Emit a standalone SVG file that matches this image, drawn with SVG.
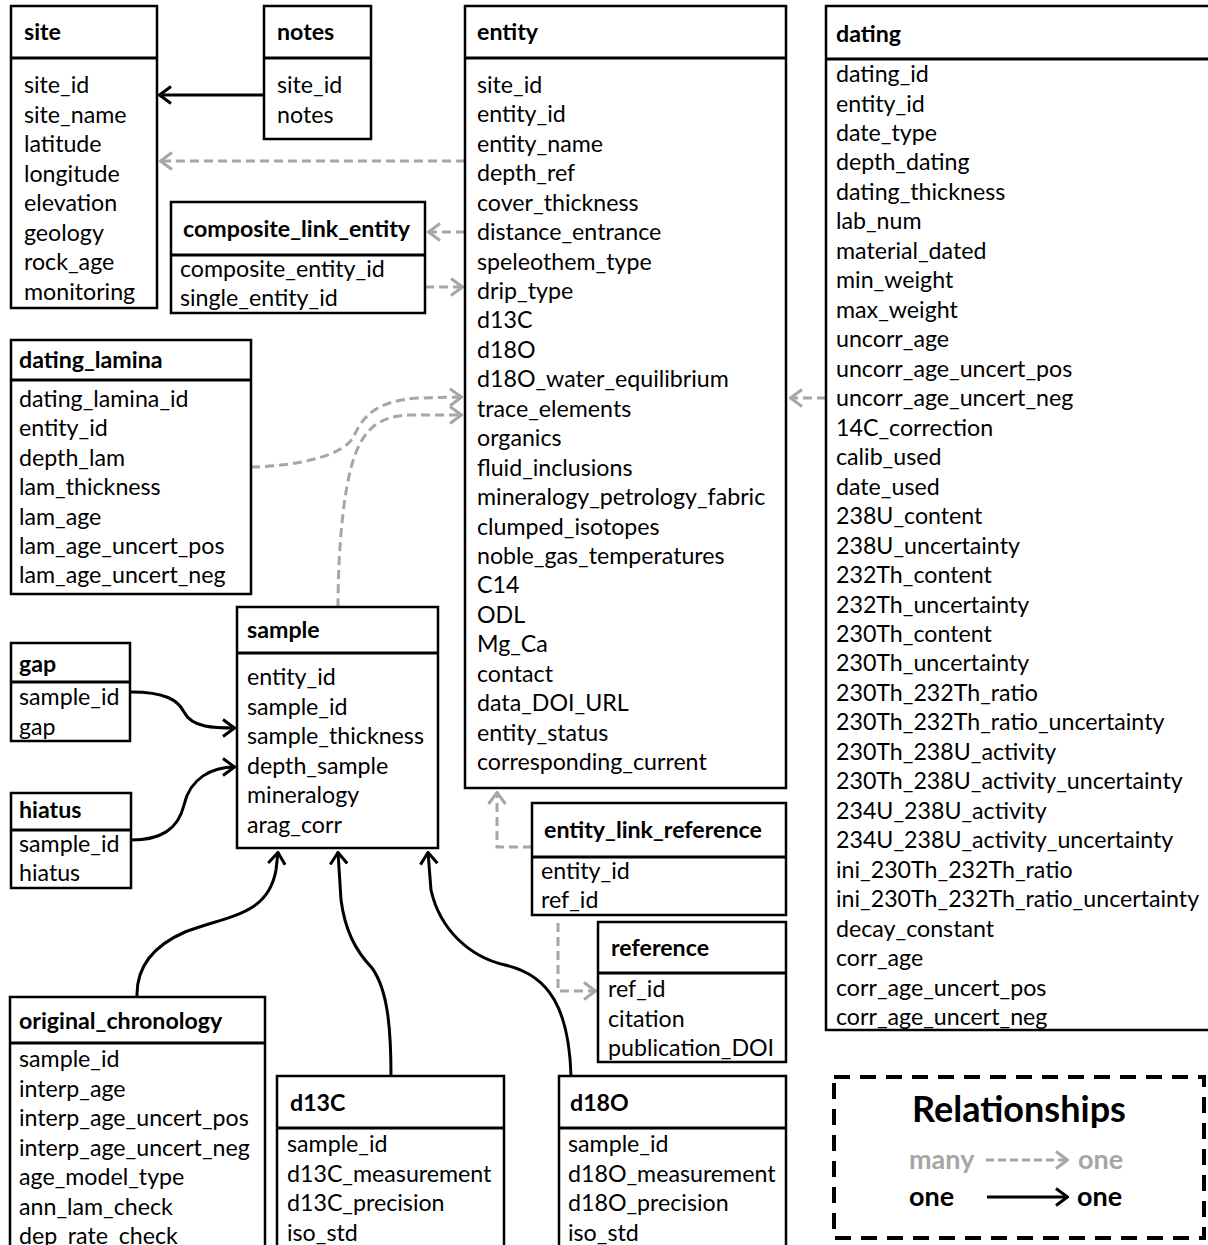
<svg xmlns="http://www.w3.org/2000/svg" width="1208" height="1245" viewBox="0 0 1208 1245">
<style>
.t{font-family:Lato,"Liberation Sans",sans-serif;font-size:23.2px;fill:#000}
.h{font-weight:bold}
.box{fill:#fff;stroke:#000;stroke-width:2.5}
.sep{stroke:#000;stroke-width:3}
.one{fill:none;stroke:#000;stroke-width:3}
.many{fill:none;stroke:#a6a6a6;stroke-width:3;stroke-dasharray:9 5}
.lg{font-size:27px}
</style>
<defs>
<marker id="ab" viewBox="0 0 14 20" refX="13" refY="10" markerWidth="14" markerHeight="20" markerUnits="userSpaceOnUse" orient="auto"><path d="M1,1.5 L12.5,10 L1,18.5" fill="none" stroke="#000" stroke-width="3"/></marker>
<marker id="ag" viewBox="0 0 14 20" refX="13" refY="10" markerWidth="14" markerHeight="20" markerUnits="userSpaceOnUse" orient="auto"><path d="M1,1.5 L12.5,10 L1,18.5" fill="none" stroke="#a6a6a6" stroke-width="3"/></marker>
</defs>
<rect width="1208" height="1245" fill="#fff"/>

<g id="connectors">
<path class="one" d="M264,95 L159,95" marker-end="url(#ab)"/>
<path class="many" d="M465,161 L160,161" marker-end="url(#ag)"/>
<path class="many" d="M465,232 L428,232" marker-end="url(#ag)"/>
<path class="many" d="M425,287 L463,287" marker-end="url(#ag)"/>
<path class="many" d="M251,467 C300,466 345,455 354,436 C362,418 375,400 420,398 L462,397" marker-end="url(#ag)"/>
<path class="many" d="M338,607 C338,560 342,490 355,455 C365,428 380,416 410,415 L462,415" marker-end="url(#ag)"/>
<path class="one" d="M131,692 C165,692 178,700 184,712 C192,728 215,728 235,728" marker-end="url(#ab)"/>
<path class="one" d="M131,840 C160,840 178,830 184,805 C190,778 212,767 235,767" marker-end="url(#ab)"/>
<path class="one" d="M137,997 C136,965 155,945 185,932 C230,915 268,915 276,870 L278,852" marker-end="url(#ab)"/>
<path class="one" d="M391,1076 C391,1030 388,990 372,968 C355,950 345,930 341,900 L338,852" marker-end="url(#ab)"/>
<path class="one" d="M571,1076 C569,1010 550,975 505,965 C470,957 440,930 431,890 L428,852" marker-end="url(#ab)"/>
<path class="many" d="M532,847 L497,847 L497,792" marker-end="url(#ag)"/>
<path class="many" d="M558,923 L558,991 L596,991" marker-end="url(#ag)"/>
<path class="many" d="M826,398 L790,398" marker-end="url(#ag)"/>
</g>

<g id="site">
<rect class="box" x="11" y="6" width="146" height="302"/><line class="sep" x1="11" y1="58" x2="157" y2="58"/>
<text class="t h" x="24" y="40">site</text>
<text class="t" x="24" y="93">site_id</text>
<text class="t" x="24" y="122.5">site_name</text>
<text class="t" x="24" y="152">latitude</text>
<text class="t" x="24" y="181.5">longitude</text>
<text class="t" x="24" y="211">elevation</text>
<text class="t" x="24" y="240.5">geology</text>
<text class="t" x="24" y="270">rock_age</text>
<text class="t" x="24" y="299.5">monitoring</text>
</g>

<g id="notes">
<rect class="box" x="264" y="6" width="107" height="133"/><line class="sep" x1="264" y1="58" x2="371" y2="58"/>
<text class="t h" x="277" y="40">notes</text>
<text class="t" x="277" y="93">site_id</text>
<text class="t" x="277" y="122.5">notes</text>
</g>

<g id="entity">
<rect class="box" x="465" y="6" width="321" height="782"/><line class="sep" x1="465" y1="58" x2="786" y2="58"/>
<text class="t h" x="477" y="40">entity</text>
<text class="t" x="477" y="93">site_id</text>
<text class="t" x="477" y="122.4">entity_id</text>
<text class="t" x="477" y="151.9">entity_name</text>
<text class="t" x="477" y="181.3">depth_ref</text>
<text class="t" x="477" y="210.7">cover_thickness</text>
<text class="t" x="477" y="240.2">distance_entrance</text>
<text class="t" x="477" y="269.6">speleothem_type</text>
<text class="t" x="477" y="299">drip_type</text>
<text class="t" x="477" y="328.4">d13C</text>
<text class="t" x="477" y="357.9">d18O</text>
<text class="t" x="477" y="387.3">d18O_water_equilibrium</text>
<text class="t" x="477" y="416.7">trace_elements</text>
<text class="t" x="477" y="446.2">organics</text>
<text class="t" x="477" y="475.6">fluid_inclusions</text>
<text class="t" x="477" y="505">mineralogy_petrology_fabric</text>
<text class="t" x="477" y="534.5">clumped_isotopes</text>
<text class="t" x="477" y="563.9">noble_gas_temperatures</text>
<text class="t" x="477" y="593.3">C14</text>
<text class="t" x="477" y="622.7">ODL</text>
<text class="t" x="477" y="652.2">Mg_Ca</text>
<text class="t" x="477" y="681.6">contact</text>
<text class="t" x="477" y="711">data_DOI_URL</text>
<text class="t" x="477" y="740.5">entity_status</text>
<text class="t" x="477" y="769.9">corresponding_current</text>
</g>

<g id="composite_link_entity">
<rect class="box" x="171" y="202" width="254" height="111"/><line class="sep" x1="171" y1="255" x2="425" y2="255"/>
<text class="t h" x="183" y="237">composite_link_entity</text>
<text class="t" x="180" y="277">composite_entity_id</text>
<text class="t" x="180" y="306">single_entity_id</text>
</g>

<g id="dating">
<rect class="box" x="826" y="6" width="392" height="1024"/><line class="sep" x1="826" y1="59" x2="1218" y2="59"/>
<text class="t h" x="836" y="42">dating</text>
<text class="t" x="836" y="82">dating_id</text>
<text class="t" x="836" y="111.5">entity_id</text>
<text class="t" x="836" y="140.9">date_type</text>
<text class="t" x="836" y="170.4">depth_dating</text>
<text class="t" x="836" y="199.9">dating_thickness</text>
<text class="t" x="836" y="229.4">lab_num</text>
<text class="t" x="836" y="258.8">material_dated</text>
<text class="t" x="836" y="288.3">min_weight</text>
<text class="t" x="836" y="317.8">max_weight</text>
<text class="t" x="836" y="347.2">uncorr_age</text>
<text class="t" x="836" y="376.7">uncorr_age_uncert_pos</text>
<text class="t" x="836" y="406.2">uncorr_age_uncert_neg</text>
<text class="t" x="836" y="435.6">14C_correction</text>
<text class="t" x="836" y="465.1">calib_used</text>
<text class="t" x="836" y="494.6">date_used</text>
<text class="t" x="836" y="524.1">238U_content</text>
<text class="t" x="836" y="553.5">238U_uncertainty</text>
<text class="t" x="836" y="583">232Th_content</text>
<text class="t" x="836" y="612.5">232Th_uncertainty</text>
<text class="t" x="836" y="641.9">230Th_content</text>
<text class="t" x="836" y="671.4">230Th_uncertainty</text>
<text class="t" x="836" y="700.9">230Th_232Th_ratio</text>
<text class="t" x="836" y="730.3">230Th_232Th_ratio_uncertainty</text>
<text class="t" x="836" y="759.8">230Th_238U_activity</text>
<text class="t" x="836" y="789.3">230Th_238U_activity_uncertainty</text>
<text class="t" x="836" y="818.8">234U_238U_activity</text>
<text class="t" x="836" y="848.2">234U_238U_activity_uncertainty</text>
<text class="t" x="836" y="877.7">ini_230Th_232Th_ratio</text>
<text class="t" x="836" y="907.2">ini_230Th_232Th_ratio_uncertainty</text>
<text class="t" x="836" y="936.6">decay_constant</text>
<text class="t" x="836" y="966.1">corr_age</text>
<text class="t" x="836" y="995.6">corr_age_uncert_pos</text>
<text class="t" x="836" y="1025">corr_age_uncert_neg</text>
</g>

<g id="dating_lamina">
<rect class="box" x="11" y="340" width="240" height="254"/><line class="sep" x1="11" y1="380" x2="251" y2="380"/>
<text class="t h" x="19" y="368">dating_lamina</text>
<text class="t" x="19" y="407">dating_lamina_id</text>
<text class="t" x="19" y="436.4">entity_id</text>
<text class="t" x="19" y="465.8">depth_lam</text>
<text class="t" x="19" y="495.2">lam_thickness</text>
<text class="t" x="19" y="524.6">lam_age</text>
<text class="t" x="19" y="554">lam_age_uncert_pos</text>
<text class="t" x="19" y="583.4">lam_age_uncert_neg</text>
</g>

<g id="sample">
<rect class="box" x="237" y="607" width="201" height="241"/><line class="sep" x1="237" y1="653" x2="438" y2="653"/>
<text class="t h" x="247" y="638">sample</text>
<text class="t" x="247" y="685">entity_id</text>
<text class="t" x="247" y="714.5">sample_id</text>
<text class="t" x="247" y="744">sample_thickness</text>
<text class="t" x="247" y="773.5">depth_sample</text>
<text class="t" x="247" y="803">mineralogy</text>
<text class="t" x="247" y="832.5">arag_corr</text>
</g>

<g id="gap">
<rect class="box" x="11" y="643" width="119" height="98"/><line class="sep" x1="11" y1="682" x2="130" y2="682"/>
<text class="t h" x="19" y="672">gap</text>
<text class="t" x="19" y="705">sample_id</text>
<text class="t" x="19" y="735">gap</text>
</g>

<g id="hiatus">
<rect class="box" x="11" y="793" width="120" height="95"/><line class="sep" x1="11" y1="830" x2="131" y2="830"/>
<text class="t h" x="19" y="818">hiatus</text>
<text class="t" x="19" y="852">sample_id</text>
<text class="t" x="19" y="881">hiatus</text>
</g>

<g id="original_chronology">
<rect class="box" x="10" y="997" width="255" height="260"/><line class="sep" x1="10" y1="1043" x2="265" y2="1043"/>
<text class="t h" x="19" y="1029">original_chronology</text>
<text class="t" x="19" y="1067">sample_id</text>
<text class="t" x="19" y="1096.5">interp_age</text>
<text class="t" x="19" y="1126">interp_age_uncert_pos</text>
<text class="t" x="19" y="1155.5">interp_age_uncert_neg</text>
<text class="t" x="19" y="1185">age_model_type</text>
<text class="t" x="19" y="1214.5">ann_lam_check</text>
<text class="t" x="19" y="1244">dep_rate_check</text>
</g>

<g id="d13C">
<rect class="box" x="277" y="1076" width="227" height="180"/><line class="sep" x1="277" y1="1128" x2="504" y2="1128"/>
<text class="t h" x="290" y="1111">d13C</text>
<text class="t" x="287" y="1152">sample_id</text>
<text class="t" x="287" y="1181.5">d13C_measurement</text>
<text class="t" x="287" y="1211">d13C_precision</text>
<text class="t" x="287" y="1240.5">iso_std</text>
</g>

<g id="d18O">
<rect class="box" x="559" y="1076" width="227" height="180"/><line class="sep" x1="559" y1="1128" x2="786" y2="1128"/>
<text class="t h" x="570" y="1111">d18O</text>
<text class="t" x="568" y="1152">sample_id</text>
<text class="t" x="568" y="1181.5">d18O_measurement</text>
<text class="t" x="568" y="1211">d18O_precision</text>
<text class="t" x="568" y="1240.5">iso_std</text>
</g>

<g id="entity_link_reference">
<rect class="box" x="532" y="803" width="254" height="112"/><line class="sep" x1="532" y1="857" x2="786" y2="857"/>
<text class="t h" x="544" y="838">entity_link_reference</text>
<text class="t" x="541" y="879">entity_id</text>
<text class="t" x="541" y="908">ref_id</text>
</g>

<g id="reference">
<rect class="box" x="598" y="922" width="188" height="140"/><line class="sep" x1="598" y1="973" x2="786" y2="973"/>
<text class="t h" x="611" y="956">reference</text>
<text class="t" x="608" y="997">ref_id</text>
<text class="t" x="608" y="1026.5">citation</text>
<text class="t" x="608" y="1056">publication_DOI</text>
</g>

<g id="legend">
<rect x="834" y="1077" width="370" height="161" fill="none" stroke="#000" stroke-width="4" stroke-dasharray="16 10"/>
<text class="t h" x="1019" y="1122" text-anchor="middle" style="font-size:36px">Relationships</text>
<text class="t h lg" x="909" y="1169" style="fill:#a6a6a6">many</text>
<path d="M986,1160 L1068,1160" fill="none" stroke="#a6a6a6" stroke-width="3" stroke-dasharray="8 4" marker-end="url(#ag)"/>
<text class="t h lg" x="1078" y="1169" style="fill:#a6a6a6">one</text>
<text class="t h lg" x="909" y="1206">one</text>
<path d="M987,1197 L1068,1197" fill="none" stroke="#000" stroke-width="3" marker-end="url(#ab)"/>
<text class="t h lg" x="1077" y="1206">one</text>
</g>
</svg>
